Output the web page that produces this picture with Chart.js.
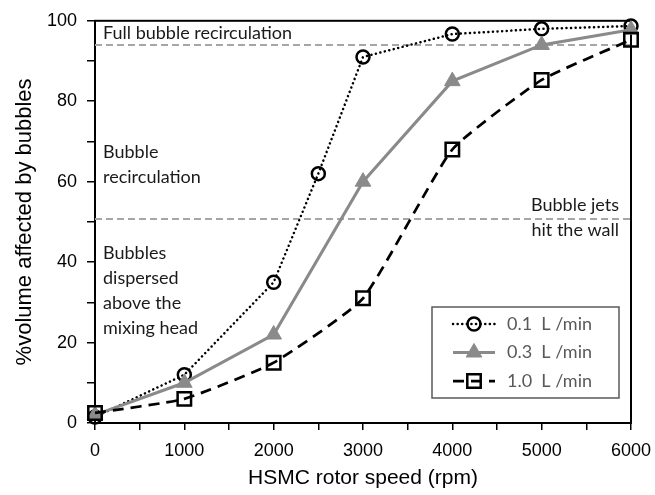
<!DOCTYPE html>
<html>
<head>
<meta charset="utf-8">
<script src="https://cdn.jsdelivr.net/npm/chart.js@4.4.0/dist/chart.umd.min.js"></script>
<style>
  html, body { margin: 0; padding: 0; background: #fff; }
  #wrap { width: 655px; height: 495px; }
</style>
</head>
<body>
<div id="wrap"><canvas id="bubbleChart" width="655" height="495"></canvas></div>
<script>
// ---- Measurements: rotor speed (rpm) vs % volume reached by bubbles ----
const speedFine = [0, 1000, 2000, 2500, 3000, 4000, 5000, 6000];
const speedCoarse = [0, 1000, 2000, 3000, 4000, 5000, 6000];
const vol01 = [1.5, 12, 35, 62, 91, 96.7, 98, 98.7];
const vol03 = [2, 10, 22, 60, 85, 94, 97.8];
const vol10 = [2.5, 6, 15, 31, 68, 85.3, 95.3];
const seriesLabels = ['0.1  L /min', '0.3  L /min', '1.0  L /min'];

// regime boundaries (% volume) and the notes written next to them
const regimeLevels = [94, 50.7];
const noteFull = ['Full bubble recirculation'];
const noteRecirc = ['Bubble', 'recirculation'];
const noteDispersed = ['Bubbles', 'dispersed', 'above the', 'mixing head'];
const noteJets = ['Bubble jets', 'hit the wall'];

const xMin = 0, xMax = 6000, xStep = 500, xLabelStep = 1000;
const yMin = 0, yMax = 100, yStep = 10, yLabelStep = 20;

const NOTE_FONT = '18px Lato';
const AXIS_FONT = "Arial, 'Liberation Sans', sans-serif";

const toPoints = (xs, ys) => xs.map((x, i) => ({ x, y: ys[i] }));
const levelLine = v => [{ x: xMin, y: v }, { x: xMax, y: v }];

// ---- Plugins ----
const plotFrame = {
  id: 'plotFrame',
  beforeDatasetsDraw(chart) {
    const { ctx, chartArea: a } = chart;
    ctx.save();
    ctx.strokeStyle = '#000';
    ctx.lineWidth = 2;
    ctx.strokeRect(a.left, a.top, a.right - a.left, a.bottom - a.top);
    ctx.restore();
  }
};

const regimeNotes = {
  id: 'regimeNotes',
  afterDatasetsDraw(chart) {
    const { ctx, chartArea: a, scales: { y } } = chart;
    const lh = 25;
    ctx.save();
    ctx.font = NOTE_FONT;
    ctx.fillStyle = '#1a1a1a';
    ctx.textBaseline = 'middle';
    const block = (lines, x, yTop, align) => {
      ctx.textAlign = align;
      lines.forEach((t, i) => ctx.fillText(t, x, yTop + i * lh));
    };
    block(noteFull, a.left + 8, y.getPixelForValue(96.8), 'left');
    block(noteRecirc, a.left + 8, y.getPixelForValue(67.3), 'left');
    block(noteDispersed, a.left + 8, y.getPixelForValue(42.3), 'left');
    block(noteJets, a.right - 12, y.getPixelForValue(54.2), 'right');
    ctx.restore();
  }
};

const boxLegend = {
  id: 'boxLegend',
  afterDraw(chart) {
    const { ctx, chartArea: a } = chart;
    const w = 187, h = 91;
    const x0 = a.right - 12 - w, y0 = a.bottom - 25 - h;
    ctx.save();
    ctx.fillStyle = '#fff';
    ctx.fillRect(x0, y0, w, h);
    ctx.strokeStyle = '#595959';
    ctx.lineWidth = 1.5;
    ctx.strokeRect(x0, y0, w, h);

    const series = chart.data.datasets.filter(d => seriesLabels.includes(d.label));
    series.forEach((ds, i) => {
      const cy = y0 + 17 + i * 28.5;
      const lx0 = x0 + 21, lx1 = x0 + 63, mx = (lx0 + lx1) / 2;
      ctx.beginPath();
      ctx.setLineDash(ds.borderDash || []);
      ctx.lineCap = ds.borderCapStyle || 'butt';
      ctx.strokeStyle = ds.borderColor;
      ctx.lineWidth = ds.borderWidth;
      ctx.moveTo(lx0, cy);
      ctx.lineTo(lx1, cy);
      ctx.stroke();
      ctx.setLineDash([]);
      ctx.lineCap = 'butt';
      ctx.fillStyle = ds.pointBackgroundColor;
      ctx.strokeStyle = ds.pointBorderColor;
      ctx.lineWidth = ds.pointBorderWidth;
      Chart.helpers.drawPoint(ctx, {
        pointStyle: ds.pointStyle, radius: ds.pointRadius,
        rotation: 0, borderWidth: ds.pointBorderWidth
      }, mx, cy);
      ctx.fillStyle = '#595959';
      ctx.font = NOTE_FONT;
      ctx.textAlign = 'left';
      ctx.textBaseline = 'middle';
      ctx.fillText(ds.label, x0 + 75, cy);
    });
    ctx.restore();
  }
};

// ---- Chart ----
new Chart(document.getElementById('bubbleChart'), {
  type: 'line',
  data: {
    datasets: [
      {
        label: seriesLabels[0],
        data: toPoints(speedFine, vol01),
        borderColor: '#000', borderWidth: 2.5, borderDash: [0.1, 4.5], borderCapStyle: 'round',
        pointStyle: 'circle', pointRadius: 6.5, pointBorderWidth: 2.5,
        pointBackgroundColor: 'rgba(0,0,0,0)', pointBorderColor: '#000',
        tension: 0, clip: false, order: 3
      },
      {
        label: seriesLabels[1],
        data: toPoints(speedCoarse, vol03),
        borderColor: '#8a8a8a', borderWidth: 3,
        pointStyle: 'triangle', pointRadius: 9, pointBorderWidth: 1,
        pointBackgroundColor: '#8a8a8a', pointBorderColor: '#8a8a8a',
        tension: 0, clip: false, order: 2
      },
      {
        label: seriesLabels[2],
        data: toPoints(speedCoarse, vol10),
        borderColor: '#000', borderWidth: 2.75, borderDash: [11, 7],
        pointStyle: 'rect', pointRadius: 9.5, pointBorderWidth: 2.5,
        pointBackgroundColor: 'rgba(0,0,0,0)', pointBorderColor: '#000',
        tension: 0.15, clip: false, order: 1
      },
      ...regimeLevels.map(v => ({
        label: 'level ' + v,
        data: levelLine(v),
        borderColor: '#a6a6a6', borderWidth: 2, borderDash: [7, 4],
        pointRadius: 0, order: 10
      }))
    ]
  },
  options: {
    responsive: false,
    animation: false,
    layout: { padding: { top: 20, right: 24, left: 0, bottom: 0 } },
    plugins: { legend: { display: false }, tooltip: { enabled: false } },
    scales: {
      x: {
        type: 'linear', min: xMin, max: xMax,
        border: { display: true, color: '#000', width: 2 },
        grid: { drawOnChartArea: false, drawTicks: true, tickLength: 7, color: '#000', lineWidth: 1.5 },
        ticks: {
          stepSize: xStep, autoSkip: false, maxRotation: 0, padding: 10,
          color: '#000', font: { family: AXIS_FONT, size: 18 },
          callback: v => (v % xLabelStep === 0 ? v : '')
        },
        title: {
          display: true, text: 'HSMC rotor speed (rpm)', color: '#000',
          font: { family: AXIS_FONT, size: 21 }, padding: { top: 0, bottom: 4 }
        },
        afterFit: s => { s.height = 72; s.paddingRight = 0; s.paddingLeft = 0; }
      },
      y: {
        type: 'linear', min: yMin, max: yMax,
        border: { display: true, color: '#000', width: 2 },
        grid: { drawOnChartArea: false, drawTicks: true, tickLength: 8, color: '#000', lineWidth: 1.5 },
        ticks: {
          stepSize: yStep, autoSkip: false, padding: 10,
          color: '#000', font: { family: AXIS_FONT, size: 18 },
          callback: v => (v % yLabelStep === 0 ? v : '')
        },
        title: {
          display: true, text: '%volume affected by bubbles', color: '#000',
          font: { family: AXIS_FONT, size: 22 }, padding: { top: 12, bottom: 0 }
        },
        afterFit: s => { s.width = 95; }
      }
    }
  },
  plugins: [plotFrame, regimeNotes, boxLegend]
});
</script>
</body>
</html>
